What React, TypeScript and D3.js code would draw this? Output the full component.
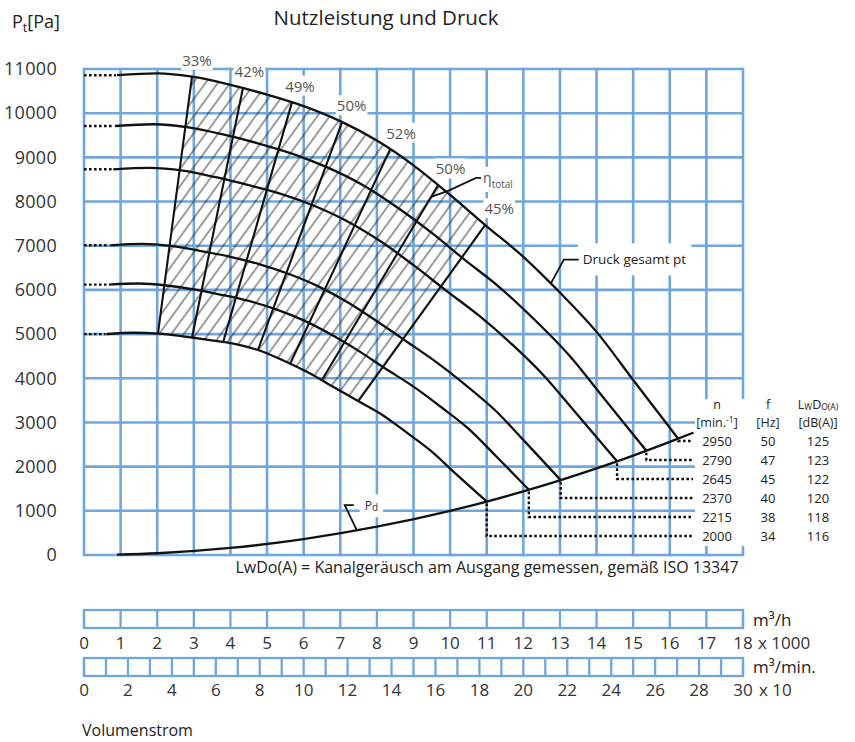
import React, { useEffect, useRef } from 'react'
import * as d3 from 'd3'

type Pt = [number, number]

const W = 855
const H = 742
const BLUE = '#6fa6dc'
const INK = '#111'
const TXT = '#333'
const FONT = '"Open Sans", "Noto Sans", sans-serif'

// achsen
const pressureTicks = [0, 1000, 2000, 3000, 4000, 5000, 6000, 7000, 8000, 9000, 10000, 11000]
const flowHourTicks = [0, 1, 2, 3, 4, 5, 6, 7, 8, 9, 10, 11, 12, 13, 14, 15, 16, 17, 18]
const flowMinCells = [0, 1, 2, 3, 4, 5, 6, 7, 8, 9, 10, 11, 12, 13, 14, 15, 16, 17, 18, 19, 20, 21, 22, 23, 24, 25, 26, 27, 28, 29, 30]
const flowMinLabels = [0, 2, 4, 6, 8, 10, 12, 14, 16, 18, 20, 22, 24, 26, 28, 30]

// drehzahlen + tabelle
const speeds = [2950, 2790, 2645, 2370, 2215, 2000]
const freqs = [50, 47, 45, 40, 38, 34]
const noise = [125, 123, 122, 120, 118, 116]

// Druck gesamt pt, [Q x1000 m3/h, Pa]
const curve2950: Pt[] = [[0.9, 10860], [2, 10900], [3, 10820], [4, 10640], [5, 10420], [6, 10160], [7, 9820], [8, 9380], [9, 8820], [10, 8150], [11, 7440], [12, 6750], [13, 5940], [14, 5050], [15, 3960], [16.23, 2630]]
const curve2790: Pt[] = [[0.85, 9710], [1.9, 9750], [2.85, 9680], [3.8, 9520], [4.7, 9330], [5.7, 9080], [6.6, 8790], [7.6, 8380], [8.5, 7900], [9.5, 7290], [10.4, 6680], [11.35, 6060], [12.3, 5330], [13.25, 4520], [14.2, 3550], [15.36, 2360]]
const curve2645: Pt[] = [[0.8, 8730], [1.8, 8760], [2.7, 8700], [3.6, 8550], [4.5, 8370], [5.4, 8170], [6.3, 7900], [7.2, 7550], [8.1, 7100], [9, 6560], [9.9, 5980], [10.8, 5410], [11.7, 4760], [12.55, 4070], [13.45, 3200], [14.56, 2120]]
const curve2370: Pt[] = [[0.72, 7010], [1.6, 7040], [2.4, 6990], [3.2, 6880], [4, 6750], [4.8, 6580], [5.6, 6360], [6.4, 6080], [7.2, 5720], [8, 5290], [8.85, 4810], [9.65, 4350], [10.45, 3830], [11.25, 3260], [12.05, 2560], [13.02, 1695]]
const curve2215: Pt[] = [[0.68, 6120], [1.5, 6145], [2.25, 6100], [3, 6010], [3.75, 5890], [4.5, 5750], [5.25, 5560], [6, 5310], [6.75, 4990], [7.5, 4620], [8.25, 4210], [9, 3810], [9.75, 3350], [10.5, 2860], [11.25, 2240], [12.15, 1480]]
const curve2000: Pt[] = [[0.61, 5000], [1.35, 5030], [2.03, 5010], [2.7, 4950], [3.4, 4870], [4.05, 4790], [4.75, 4640], [5.4, 4420], [6.1, 4140], [6.8, 3810], [7.45, 3500], [8.15, 3170], [8.8, 2780], [9.5, 2340], [10.15, 1840], [11, 1210]]
const curves = [curve2950, curve2790, curve2645, curve2370, curve2215, curve2000]

// dynamischer druck pd
const curvePd: Pt[] = [[0.9, 8], [2, 40], [4, 160], [6, 360], [8, 640], [10, 1000], [11, 1210], [12, 1440], [13, 1690], [14, 1960], [15, 2250], [16, 2560], [16.65, 2770]]

// wirkungsgrad linien (oben auf 2950, unten auf 2000)
const effLabels = ['33%', '42%', '49%', '50%', '52%', '50%', '45%']
const effTop: Pt[] = [[2.95, 10825], [4.34, 10565], [5.68, 10245], [7.05, 9800], [8.36, 9180], [9.67, 8370], [10.96, 7470]]
const effBottom: Pt[] = [[2.02, 5010], [2.95, 4920], [3.8, 4815], [4.75, 4640], [5.63, 4330], [6.5, 3960], [7.49, 3480]]

function pOn(curve: Pt[], q: number) {
  const i = Math.max(1, d3.bisector((d: Pt) => d[0]).left(curve, q))
  const a = curve[i - 1], b = curve[Math.min(i, curve.length - 1)]
  const t = (q - a[0]) / (b[0] - a[0] || 1)
  return a[1] + t * (b[1] - a[1])
}

function draw(el: SVGSVGElement) {
  const svg = d3.select(el)
  svg.selectAll('*').remove()

  const x = d3.scaleLinear().domain([0, 18]).range([84, 743])
  const xMin = d3.scaleLinear().domain([0, 30]).range([84, 743])
  const y = d3.scaleLinear().domain([0, 11000]).range([555, 69])

  svg.append('rect').attr('width', W).attr('height', H).attr('fill', 'white')

  const pat = svg.append('defs').append('pattern')
    .attr('id', 'hatch').attr('patternUnits', 'userSpaceOnUse')
    .attr('width', 10).attr('height', 10).attr('patternTransform', 'rotate(36)')
  pat.append('line').attr('x1', 5).attr('x2', 5).attr('y1', -1).attr('y2', 11)
    .attr('stroke', '#222').attr('stroke-width', 0.9)

  // grid
  const grid = svg.append('g').attr('stroke', BLUE).attr('stroke-width', 2.6)
  grid.selectAll('line.h').data(pressureTicks).enter().append('line').attr('class', 'h')
    .attr('x1', x(0)).attr('x2', x(18)).attr('y1', d => y(d)).attr('y2', d => y(d))
  grid.selectAll('line.v').data(flowHourTicks).enter().append('line').attr('class', 'v')
    .attr('x1', d => x(d)).attr('x2', d => x(d)).attr('y1', y(0) + 1.3).attr('y2', y(11000) - 1.3)

  const bgLayer = svg.append('g').attr('fill', 'white')
  const markLayer = svg.append('g')
  const textLayer = svg.append('g').attr('font-family', FONT).attr('fill', TXT)

  const boxed = (t: d3.Selection<SVGTextElement, unknown, null, undefined>, px: number, py: number) => {
    const b = (t.node() as SVGTextElement).getBBox()
    bgLayer.append('rect').attr('x', b.x - px).attr('y', b.y - py)
      .attr('width', b.width + 2 * px).attr('height', b.height + 2 * py)
  }

  // table background
  bgLayer.append('rect').attr('x', 695).attr('y', 399).attr('width', 160).attr('height', 147)

  // y labels
  textLayer.selectAll('text.yt').data(pressureTicks).enter().append('text').attr('class', 'yt')
    .attr('x', 57).attr('y', d => y(d)).attr('dy', '0.35em').attr('text-anchor', 'end')
    .attr('font-size', 18).attr('letter-spacing', 0.3).text(d => d)

  textLayer.append('text').attr('x', 386).attr('y', 25).attr('text-anchor', 'middle')
    .attr('font-size', 20.5).attr('fill', '#222').text('Nutzleistung und Druck')
  const pt = textLayer.append('text').attr('x', 12).attr('y', 28).attr('font-size', 18).attr('fill', '#222')
  pt.append('tspan').text('P')
  pt.append('tspan').attr('font-size', 12.5).attr('dy', 4).text('t')
  pt.append('tspan').attr('dy', -4).text('[Pa]')

  // hatched region
  const topPart = curve2950.filter(d => d[0] > effTop[0][0] && d[0] < effTop[6][0])
  const botPart = curve2000.filter(d => d[0] > effBottom[0][0] && d[0] < effBottom[6][0]).reverse()
  const poly: Pt[] = [effTop[0], ...topPart, effTop[6], effBottom[6], ...botPart, effBottom[0]]
  markLayer.append('path')
    .attr('d', d3.line<Pt>().x(d => x(d[0])).y(d => y(d[1])).curve(d3.curveLinearClosed)(poly))
    .attr('fill', 'url(#hatch)')

  const line = d3.line<Pt>().x(d => x(d[0])).y(d => y(d[1])).curve(d3.curveMonotoneX)

  // pressure curves
  markLayer.selectAll('path.pc').data(curves).enter().append('path').attr('class', 'pc')
    .attr('d', d => line(d)).attr('fill', 'none').attr('stroke', INK).attr('stroke-width', 2.3)
  markLayer.append('path').attr('d', line(curvePd)).attr('fill', 'none')
    .attr('stroke', INK).attr('stroke-width', 2.3)

  // dotted leaders
  const dots = markLayer.append('g').attr('stroke', INK).attr('stroke-width', 2.4)
    .attr('stroke-dasharray', '2.6 2.4').attr('fill', 'none')
  curves.forEach((c, i) => {
    const s = c[0]
    dots.append('line').attr('x1', x(0)).attr('x2', x(s[0]) - 1).attr('y1', y(s[1])).attr('y2', y(s[1]))
    const e = c[c.length - 1]
    const rowY = 441 + i * 19
    dots.append('path').attr('d', `M${x(e[0])},${y(e[1]) + 2}V${rowY}H693`)
  })

  // efficiency lines
  markLayer.selectAll('line.eff').data(effTop).enter().append('line').attr('class', 'eff')
    .attr('x1', d => x(d[0])).attr('y1', d => y(d[1]))
    .attr('x2', (d, i) => x(effBottom[i][0])).attr('y2', (d, i) => y(effBottom[i][1]))
    .attr('stroke', INK).attr('stroke-width', 2.1)

  effTop.forEach((d, i) => {
    const t = textLayer.append('text').attr('x', x(d[0]) + 5 + i * 1.5).attr('y', y(d[1]) - 16)
      .attr('dy', '0.35em').attr('text-anchor', 'middle').attr('font-size', 15).attr('fill', '#555')
      .text(effLabels[i])
    boxed(t, 1, 0)
  })

  // eta total label
  const e5t = effTop[5], e5b = effBottom[5]
  const sx = x(e5t[0]) + (x(e5b[0]) - x(e5t[0])) * 0.06
  const sy = y(e5t[1]) + (y(e5b[1]) - y(e5t[1])) * 0.06
  markLayer.append('path').attr('d', `M${sx},${sy}L${sx + 17},${sy - 6}L${sx + 45},${sy - 19}H${sx + 50}`)
    .attr('fill', 'none').attr('stroke', INK).attr('stroke-width', 1.8)
  const eta = textLayer.append('text').attr('x', sx + 52).attr('y', sy - 14).attr('font-size', 14).attr('fill', '#555')
  eta.append('tspan').text('η')
  eta.append('tspan').attr('font-size', 10).attr('dy', 5).text('total')
  boxed(eta, 2, 1)

  // Druck gesamt pt
  const qa = 12.75
  const ax = x(qa), ay = y(pOn(curve2950, qa))
  markLayer.append('path').attr('d', `M${ax},${ay}L${ax + 13},${ay - 24}H${ax + 28}`)
    .attr('fill', 'none').attr('stroke', INK).attr('stroke-width', 1.8)
  const druck = textLayer.append('text').attr('x', ax + 32).attr('y', ay - 24).attr('dy', '0.35em')
    .attr('font-size', 13.5).attr('fill', '#222').text('Druck gesamt pt')
  boxed(druck, 5, 7)

  // Pd label
  const qp = 7.45
  const bx = x(qp), by = y(pOn(curvePd, qp))
  markLayer.append('path').attr('d', `M${bx},${by}L${bx - 12},${by - 25}H${bx - 3}`)
    .attr('fill', 'none').attr('stroke', INK).attr('stroke-width', 1.8)
  const pd = textLayer.append('text').attr('x', bx + 8).attr('y', by - 20).attr('font-size', 12).attr('fill', '#333')
  pd.append('tspan').text('P')
  pd.append('tspan').attr('font-size', 10).attr('dy', 1).text('d')
  boxed(pd, 5, 3)

  // table
  const colN = 717, colF = 768, colL = 818
  const hdr = textLayer.append('g').attr('font-size', 12.5).attr('text-anchor', 'middle').attr('fill', '#222')
  hdr.append('text').attr('x', colN).attr('y', 409).text('n')
  const mn = hdr.append('text').attr('x', colN).attr('y', 427)
  mn.append('tspan').text('[min.')
  mn.append('tspan').attr('font-size', 8.5).attr('dy', -4).text('-1')
  mn.append('tspan').attr('dy', 4).text(']')
  hdr.append('text').attr('x', colF).attr('y', 409).text('f')
  hdr.append('text').attr('x', colF).attr('y', 427).text('[Hz]')
  const lw = hdr.append('text').attr('x', colL).attr('y', 409)
  lw.append('tspan').text('L')
  lw.append('tspan').attr('font-size', 8.5).attr('dy', 1).text('W')
  lw.append('tspan').attr('dy', -1).text('D')
  lw.append('tspan').attr('font-size', 8.5).attr('dy', 1).text('O(A)')
  hdr.append('text').attr('x', colL).attr('y', 427).text('[dB(A)]')
  speeds.forEach((n, i) => {
    const ry = 441 + i * 19
    hdr.append('text').attr('x', colN).attr('y', ry).attr('dy', '0.35em').attr('font-size', 13).text(n)
    hdr.append('text').attr('x', colF).attr('y', ry).attr('dy', '0.35em').attr('font-size', 13).text(freqs[i])
    hdr.append('text').attr('x', colL).attr('y', ry).attr('dy', '0.35em').attr('font-size', 13).text(noise[i])
  })

  textLayer.append('text').attr('x', 487).attr('y', 567).attr('dy', '0.35em').attr('text-anchor', 'middle')
    .attr('font-size', 16).attr('fill', '#222')
    .text('LwDo(A) = Kanalgeräusch am Ausgang gemessen, gemäß ISO 13347')

  // volume flow scales
  const sc = svg.append('g').attr('stroke', BLUE).attr('stroke-width', 2.3).attr('fill', 'none')
  sc.append('rect').attr('x', x(0)).attr('y', 610).attr('width', x(18) - x(0)).attr('height', 18)
  sc.selectAll('line.c1').data(flowHourTicks).enter().append('line').attr('class', 'c1')
    .attr('x1', d => x(d)).attr('x2', d => x(d)).attr('y1', 610).attr('y2', 628)
  sc.append('rect').attr('x', xMin(0)).attr('y', 658).attr('width', xMin(30) - xMin(0)).attr('height', 18)
  sc.selectAll('line.c2').data(flowMinCells).enter().append('line').attr('class', 'c2')
    .attr('x1', d => xMin(d)).attr('x2', d => xMin(d)).attr('y1', 658).attr('y2', 676)

  const ax2 = textLayer.append('g').attr('font-size', 17).attr('fill', TXT)
  ax2.selectAll('text.l1').data(flowHourTicks).enter().append('text').attr('class', 'l1')
    .attr('x', d => x(d)).attr('y', 643).attr('dy', '0.35em').attr('text-anchor', 'middle').text(d => d)
  ax2.selectAll('text.l2').data(flowMinLabels).enter().append('text').attr('class', 'l2')
    .attr('x', d => xMin(d)).attr('y', 690).attr('dy', '0.35em').attr('text-anchor', 'middle').text(d => d)
  ax2.append('text').attr('x', 753).attr('y', 620).attr('dy', '0.35em').attr('fill', '#222').text('m³/h')
  ax2.append('text').attr('x', 758).attr('y', 643).attr('dy', '0.35em').text('x 1000')
  ax2.append('text').attr('x', 753).attr('y', 667).attr('dy', '0.35em').attr('fill', '#222').text('m³/min.')
  ax2.append('text').attr('x', 759).attr('y', 690).attr('dy', '0.35em').text('x 10')
  textLayer.append('text').attr('x', 82).attr('y', 736).attr('font-size', 16).attr('fill', '#222').text('Volumenstrom')
}

export default function App() {
  const ref = useRef<SVGSVGElement>(null)
  useEffect(() => {
    if (ref.current) draw(ref.current)
  }, [])
  return (
    <svg ref={ref} width={W} height={H}
      style={{ position: 'absolute', left: 0, top: 0, display: 'block' }} />
  )
}
